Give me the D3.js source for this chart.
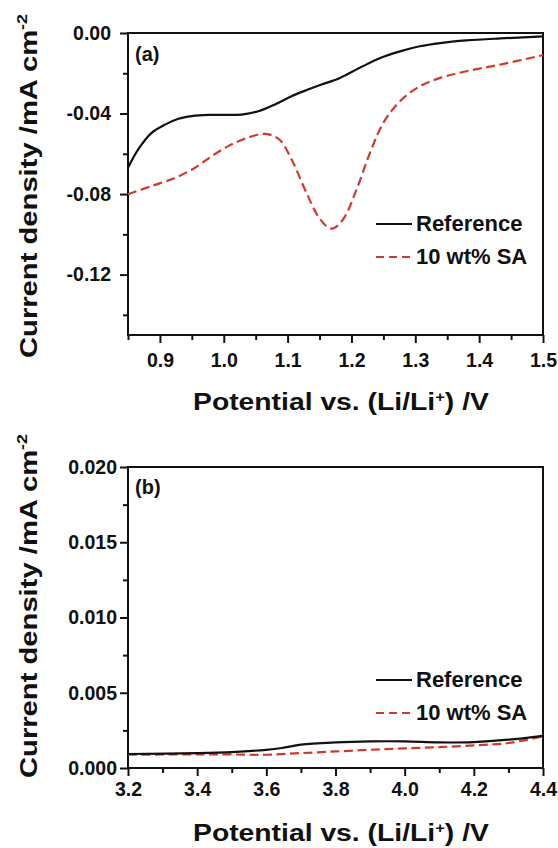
<!DOCTYPE html>
<html>
<head>
<meta charset="utf-8">
<script src="https://cdn.jsdelivr.net/npm/d3@7"></script>
<style>
  body { margin: 0; background: #fff; }
  svg { display: block; font-family: "Liberation Sans", Arial, sans-serif; font-weight: bold; }
</style>
</head>
<body>
<script>
// panel (a) - low potential sweep
var refAx = [0.85, 0.866, 0.887, 0.908, 0.929, 0.950, 0.976, 1.002, 1.028, 1.054, 1.080, 1.106, 1.132, 1.153, 1.182, 1.213, 1.245, 1.276, 1.307, 1.339, 1.380, 1.433, 1.50];
var refAy = [-0.0669, -0.0578, -0.0496, -0.0455, -0.0426, -0.0413, -0.0407, -0.0407, -0.0405, -0.0389, -0.0355, -0.0314, -0.0281, -0.0256, -0.0223, -0.0173, -0.0124, -0.0091, -0.0066, -0.0050, -0.0037, -0.0027, -0.0017];
var saAx = [0.85, 0.887, 0.924, 0.955, 0.981, 1.007, 1.033, 1.065, 1.087, 1.108, 1.129, 1.151, 1.169, 1.187, 1.208, 1.229, 1.250, 1.276, 1.307, 1.339, 1.380, 1.433, 1.50];
var saAy = [-0.0801, -0.0760, -0.0719, -0.0669, -0.0612, -0.0562, -0.0525, -0.0501, -0.0529, -0.0640, -0.0790, -0.0925, -0.0972, -0.0925, -0.0777, -0.0595, -0.0446, -0.0339, -0.0265, -0.0223, -0.0190, -0.0157, -0.0110];
var xTicksA = [0.9, 1.0, 1.1, 1.2, 1.3, 1.4, 1.5];
var xMinorA = [0.85, 0.95, 1.05, 1.15, 1.25, 1.35, 1.45];
var yTicksA = [0, -0.04, -0.08, -0.12];
var yMinorA = [-0.02, -0.06, -0.10, -0.14];

// panel (b) - high potential sweep
var refBx = [3.2, 3.4, 3.5, 3.6, 3.645, 3.7, 3.8, 3.9, 4.0, 4.1, 4.2, 4.3, 4.4];
var refBy = [0.00093, 0.00099, 0.00106, 0.00121, 0.00133, 0.00155, 0.00170, 0.00177, 0.00177, 0.00170, 0.00172, 0.00188, 0.00214];
var saBx = [3.2, 3.4, 3.5, 3.6, 3.7, 3.8, 3.9, 4.0, 4.1, 4.2, 4.3, 4.4];
var saBy = [0.00088, 0.00091, 0.00090, 0.00088, 0.00099, 0.00110, 0.00121, 0.00130, 0.00139, 0.00150, 0.00166, 0.00210];
var xTicksB = [3.2, 3.4, 3.6, 3.8, 4.0, 4.2, 4.4];
var xMinorB = [3.3, 3.5, 3.7, 3.9, 4.1, 4.3];
var yTicksB = [0, 0.005, 0.010, 0.015, 0.020];
var yMinorB = [0.0025, 0.0075, 0.0125, 0.0175];

var legendNames = ["Reference", "10 wt% SA"];
var red = "#cf3a2a";

// plain hyphen for negative numbers, like the original figure
var loc = d3.formatLocale({decimal: ".", thousands: ",", grouping: [3], currency: ["", ""], minus: "-"});

var svg = d3.select("body").append("svg")
    .attr("width", 558)
    .attr("height", 848);

function zip(xs, ys) {
    return xs.map(function(v, i){ return [v, ys[i]]; });
}

function drawPanel(p) {
    var left = 128, right = 543;
    var x = d3.scaleLinear().domain(p.xDomain).range([left, right]);
    var y = d3.scaleLinear().domain(p.yDomain).range([p.bottom, p.top]);
    var g = svg.append("g");

    // minor ticks
    g.append("g").attr("transform", "translate(0," + p.bottom + ")")
        .call(d3.axisBottom(x).tickValues(p.xMinor).tickSize(5).tickFormat(""));
    g.append("g").attr("transform", "translate(" + left + ",0)")
        .call(d3.axisLeft(y).tickValues(p.yMinor).tickSize(5).tickFormat(""));

    // major ticks
    g.append("g").attr("transform", "translate(0," + p.bottom + ")")
        .call(d3.axisBottom(x).tickValues(p.xTicks).tickSize(8).tickPadding(p.xPad).tickFormat(loc.format(p.xFmt)));
    g.append("g").attr("transform", "translate(" + left + ",0)")
        .call(d3.axisLeft(y).tickValues(p.yTicks).tickSize(8).tickPadding(p.yPad).tickFormat(loc.format(p.yFmt)));

    g.selectAll(".domain").remove();
    g.selectAll(".tick line").attr("stroke", "#111").attr("stroke-width", 2);
    g.selectAll(".tick text")
        .attr("fill", "#111")
        .style("font-size", "19.5px")
        .style("font-weight", "bold")
        .style("font-family", "'Liberation Sans', Arial, sans-serif");

    // frame
    g.append("rect")
        .attr("x", left).attr("y", p.top)
        .attr("width", right - left).attr("height", p.bottom - p.top)
        .attr("fill", "none").attr("stroke", "#111").attr("stroke-width", 2);

    var line = d3.line()
        .x(function(d){ return x(d[0]); })
        .y(function(d){ return y(d[1]); })
        .curve(d3.curveCatmullRom.alpha(0.5));

    g.append("path").datum(zip(p.saX, p.saY))
        .attr("d", line).attr("fill", "none")
        .attr("stroke", red).attr("stroke-width", 2.2)
        .attr("stroke-dasharray", "9,4.5");
    g.append("path").datum(zip(p.refX, p.refY))
        .attr("d", line).attr("fill", "none")
        .attr("stroke", "#111").attr("stroke-width", 2.2);

    // panel label
    g.append("text").attr("x", 135).attr("y", p.labelY)
        .style("font-size", "20px").attr("fill", "#111").text(p.label);

    // legend
    var leg = g.append("g");
    legendNames.forEach(function(name, i){
        var ly = p.legendY + i * 33;
        leg.append("line")
            .attr("x1", 376).attr("x2", 412).attr("y1", ly).attr("y2", ly)
            .attr("stroke", i === 0 ? "#111" : red).attr("stroke-width", 2.2)
            .attr("stroke-dasharray", i === 0 ? null : "8,5");
        leg.append("text")
            .attr("x", 416).attr("y", ly + 7)
            .style("font-size", "22px").attr("fill", "#111")
            .text(name);
    });

    // x axis title (the original face is wide, so stretch it sideways)
    var xt = g.append("text")
        .attr("transform", "translate(193," + p.xTitleY + ") scale(1.18,1)")
        .style("font-size", "24px").attr("fill", "#111");
    xt.append("tspan").text("Potential vs. (Li/Li");
    xt.append("tspan").attr("dy", -8).style("font-size", "14px").text("+");
    xt.append("tspan").attr("dy", 8).text(") /V");

    // y axis title
    var yt = g.append("text")
        .attr("transform", "translate(37," + p.yTitleStart + ") rotate(-90) scale(1.27,1)")
        .style("font-size", "23px").attr("fill", "#111");
    yt.append("tspan").text("Current density /mA cm");
    yt.append("tspan").attr("dy", -10).style("font-size", "14px").text("-2");
}

drawPanel({
    top: 33, bottom: 335,
    xDomain: [0.85, 1.5], yDomain: [-0.15, 0],
    xTicks: xTicksA, xMinor: xMinorA, yTicks: yTicksA, yMinor: yMinorA,
    xFmt: ".1f", yFmt: ".2f", xPad: 10, yPad: 9,
    refX: refAx, refY: refAy, saX: saAx, saY: saAy,
    label: "(a)", labelY: 61, legendY: 224,
    xTitleY: 410, yTitleStart: 358
});

drawPanel({
    top: 467, bottom: 768,
    xDomain: [3.2, 4.4], yDomain: [0, 0.02],
    xTicks: xTicksB, xMinor: xMinorB, yTicks: yTicksB, yMinor: yMinorB,
    xFmt: ".1f", yFmt: ".3f", xPad: 6, yPad: 3,
    refX: refBx, refY: refBy, saX: saBx, saY: saBy,
    label: "(b)", labelY: 494, legendY: 680,
    xTitleY: 841, yTitleStart: 778
});
</script>
</body>
</html>
